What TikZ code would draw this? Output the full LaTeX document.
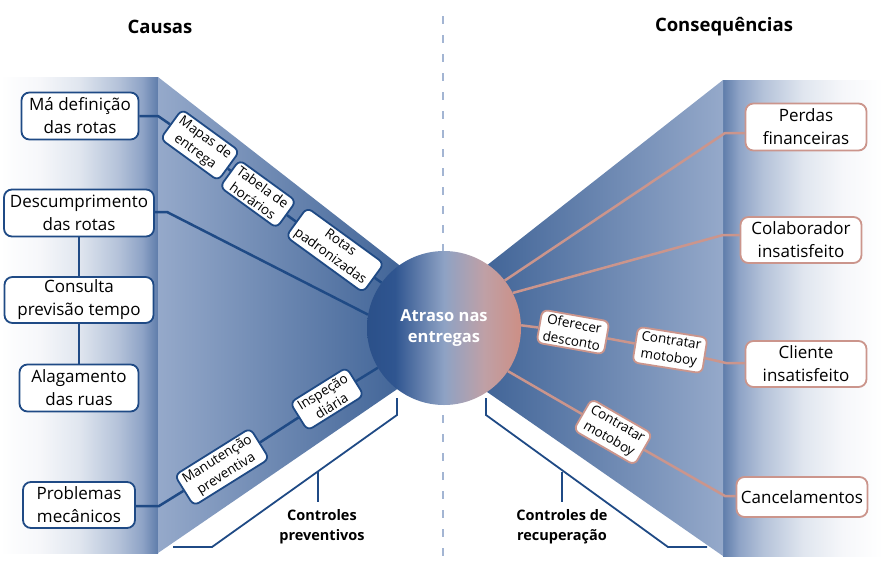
\documentclass[tikz,border=0pt]{standalone}
\usepackage{fontspec}
\setmainfont{Open Sans}
\definecolor{dkblue}{HTML}{1F4A85}
\definecolor{pinkc}{HTML}{CB958C}
\definecolor{dashc}{HTML}{A3B5D3}
\definecolor{trlight}{HTML}{95A9CA}
\definecolor{trdark}{HTML}{33598F}
\definecolor{cA}{HTML}{2B5089}
\definecolor{cB}{HTML}{2F5590}
\definecolor{cC}{HTML}{8EA2C4}
\definecolor{cD}{HTML}{BFA0A6}
\definecolor{cE}{HTML}{CD8F85}
\definecolor{pw1}{HTML}{F6F7FA}
\definecolor{pw2}{HTML}{E0E6EF}
\definecolor{pw3}{HTML}{B4C2D9}
\definecolor{pw4}{HTML}{8EA3C6}
\definecolor{pb}{HTML}{5F7DAB}
\pgfdeclarehorizontalshading{circsh}{100bp}{color(0bp)=(cA); color(25bp)=(cA); color(34bp)=(cB); color(50bp)=(cC); color(63bp)=(cD); color(75bp)=(cE); color(100bp)=(cE)}
\pgfdeclarehorizontalshading{lpanel}{100bp}{color(0bp)=(white); color(25bp)=(white); color(37.5bp)=(pw1); color(50bp)=(pw2); color(62.5bp)=(pw3); color(70bp)=(pw4); color(75bp)=(pb); color(100bp)=(pb)}
\pgfdeclarehorizontalshading{rpanel}{100bp}{color(0bp)=(pb); color(25bp)=(pb); color(30bp)=(pw4); color(37.5bp)=(pw3); color(50bp)=(pw2); color(62.5bp)=(pw1); color(75bp)=(white); color(100bp)=(white)}
\begin{document}
\begin{tikzpicture}[x=1pt,y=-1pt,
  cbox/.style={draw=dkblue, line width=1.8pt, fill=white, rounded corners=8pt, align=center, inner sep=2pt, font=\fontsize{17}{23}\selectfont, text=black},
  ebox/.style={cbox, draw=pinkc},
  sbox/.style={draw=dkblue, line width=1.8pt, fill=white, rounded corners=6pt, align=center, inner xsep=5pt, inner ysep=3pt, font=\fontsize{13.5}{17}\selectfont, text=black},
  psbox/.style={sbox, draw=pinkc},
  bline/.style={draw=dkblue, line width=2.5pt},
  pline/.style={draw=pinkc, line width=2.5pt},
  brk/.style={draw=dkblue, line width=1.8pt},
  ttl/.style={font=\bfseries\fontsize{18.5}{22}\selectfont, text=black},
  blab/.style={font=\bfseries\fontsize{14.5}{20}\selectfont, align=center, text=black}]
\useasboundingbox (0,0) rectangle (883,563);
% panels
\shade[shading=lpanel] (0,77) rectangle (158,553);
\shade[shading=rpanel] (723,80) rectangle (883,556);
\shade[left color=trlight, right color=trdark] (158,77) -- (444,300) -- (444,357) -- (158,553) -- cycle;
\shade[left color=trdark, right color=trlight] (444,299) -- (723,80) -- (723,556) -- (444,362) -- cycle;
% dashed line
\draw[dashc, line width=2.5pt, dash pattern=on 8pt off 11pt] (443,16) -- (443,563);
% titles
\node[ttl] (tc) at (160,27) {Causas};
\node[ttl] (tq) at (724,27) {Consequências};
% circle
\node[circle, minimum size=154pt, inner sep=0pt, shading=circsh, text=white, font=\bfseries\fontsize{16.5}{21}\selectfont, align=center] (circ) at (444,328) {Atraso nas\\entregas};
% cause boxes
\node[cbox, minimum width=117pt, minimum height=47pt] (c1) at (80,116) {Má definição\\das rotas};
\node[cbox, minimum width=150pt, minimum height=47pt] (c2) at (79,213) {Descumprimento\\das rotas};
\node[cbox, minimum width=149pt, minimum height=46pt] (c3) at (79,300) {Consulta\\previsão tempo};
\node[cbox, minimum width=119pt, minimum height=47pt] (c4) at (79,388) {Alagamento\\das ruas};
\node[cbox, minimum width=112pt, minimum height=46pt] (c5) at (79,505) {Problemas\\mecânicos};
% consequence boxes
\node[ebox, minimum width=121pt, minimum height=47pt] (e1) at (806,127) {Perdas\\financeiras};
\node[ebox, minimum width=121pt, minimum height=46pt] (e2) at (801,240) {Colaborador\\insatisfeito};
\node[ebox, minimum width=121pt, minimum height=46pt] (e3) at (806,364) {Cliente\\insatisfeito};
\node[ebox, minimum width=131pt, minimum height=40pt] (e4) at (802,497) {Cancelamentos};
% small control boxes
\node[sbox, rotate=-36] (m1) at (200,145) {Mapas de\\entrega};
\node[sbox, rotate=-36] (m2) at (258,194) {Tabela de\\horários};
\node[sbox, rotate=-36] (m3) at (335,250) {Rotas\\padronizadas};
\node[sbox, rotate=32] (m4) at (222,467) {Manutenção\\preventiva};
\node[sbox, rotate=32] (m5) at (327,399) {Inspeção\\diária};
\node[psbox, rotate=-10] (r1) at (573,332) {Oferecer\\desconto};
\node[psbox, rotate=-9] (r2) at (670,350) {Contratar\\motoboy};
\node[psbox, rotate=-30] (r3) at (613,432) {Contratar\\motoboy};
% coordinates
\coordinate (k1) at (158,116);
\coordinate (k2) at (167,212);
\coordinate (k5) at (159,506);
\coordinate (q1) at (725,133);
\coordinate (q2) at (723,235);
\coordinate (q3) at (726,363);
\coordinate (q4) at (725,496);
% cause connectors
\draw[bline] (c1.east) -- (k1) -- (m1) -- (m2) -- (m3) -- (circ.144);
\draw[bline] (c2.east |- k2) -- (k2) -- (circ.170);
\draw[bline] (c2) -- (c3);
\draw[bline] (c3) -- (c4);
\draw[bline] (c5.east |- k5) -- (k5) -- (m4) -- (m5) -- (circ.211);
% consequence connectors
\draw[pline] (circ.38) -- (q1) -- (e1.west |- q1);
\draw[pline] (circ.27) -- (q2) -- (e2.west |- q2);
\draw[pline] (circ.2) -- (r1) -- (r2) -- (q3) -- (e3.west |- q3);
\draw[pline] (circ.326) -- (r3) -- (q4) -- (e4.west |- q4);
% brackets
\coordinate (b1) at (397,398);
\coordinate (b2) at (397,415);
\coordinate (b3) at (212,547);
\coordinate (b4) at (173,547);
\coordinate (bt1) at (318,472);
\coordinate (bt2) at (318,502);
\draw[brk] (b1) -- (b2) -- (b3) -- (b4);
\draw[brk] (bt1) -- (bt2);
\coordinate (d1) at (486,398);
\coordinate (d2) at (486,415);
\coordinate (d3) at (668,547);
\coordinate (d4) at (707,547);
\coordinate (dt1) at (562,472);
\coordinate (dt2) at (562,502);
\draw[brk] (d1) -- (d2) -- (d3) -- (d4);
\draw[brk] (dt1) -- (dt2);
\node[blab] (lp) at (322,527) {Controles\\preventivos};
\node[blab] (lr) at (562,527) {Controles de\\recuperação};
\end{tikzpicture}
\end{document}
